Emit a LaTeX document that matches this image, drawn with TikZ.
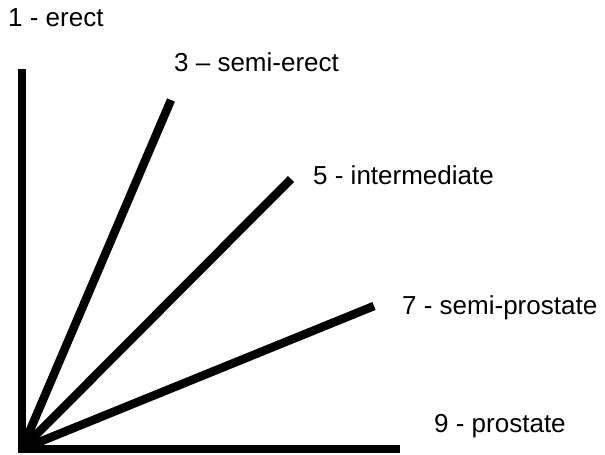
\documentclass[tikz,border=0pt]{standalone}
\usepackage{fontspec}
\setmainfont{Liberation Sans}
\usetikzlibrary{positioning}
\begin{document}
\begin{tikzpicture}[x=1pt, y=-1pt,
  stem/.style={line width=8.5pt, line cap=butt, line join=miter},
  habit/.style={anchor=base west, inner sep=0pt, font=\fontsize{26}{30}\selectfont}]
  \useasboundingbox (0,0) rectangle (605,455);

  % common base and stem tips
  \coordinate (base) at (22,449);
  \coordinate (tip1) at (22,69);
  \coordinate (tip3) at (171,100);
  \coordinate (tip5) at (291,179);
  \coordinate (tip7) at (374,306);
  \coordinate (tip9) at (400,449);

  % stems
  \draw[stem] (tip1) -- (base) -- (tip9);
  \draw[stem] (base) -- (tip3);
  \draw[stem] (base) -- (tip5);
  \draw[stem] (base) -- (tip7);

  % growth habit labels
  \node[habit] (erect) at (8,27) {1 - erect};
  \node[habit] (semierect) at (174,71) {3 -- semi-erect};
  \node[habit] (intermediate) at (313,184) {5 - intermediate};
  \node[habit] (semiprostate) at (402,314) {7 - semi-prostate};
  \node[habit] (prostate) at (434,432) {9 - prostate};
\end{tikzpicture}
\end{document}
